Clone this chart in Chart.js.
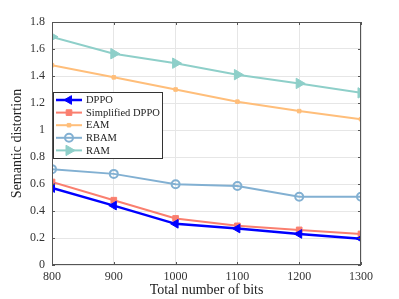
<!DOCTYPE html>
<html>
<head>
<meta charset="utf-8">
<script src="https://cdn.jsdelivr.net/npm/chart.js@4.4.0/dist/chart.umd.min.js"></script>
<style>
  html, body { margin: 0; padding: 0; background: #fff; }
  #wrap { width: 399px; height: 299px; }
</style>
</head>
<body>
<div id="wrap"><canvas id="chartCanvas" width="399" height="299"></canvas></div>
<script>
// x axis values (total number of bits)
const bits = [800, 900, 1000, 1100, 1200, 1300];

// semantic distortion
const dppo = [0.57, 0.44, 0.305, 0.27, 0.23, 0.195];
const simplifiedDppo = [0.615, 0.48, 0.345, 0.29, 0.26, 0.23];
const eam = [1.48, 1.39, 1.30, 1.21, 1.14, 1.08];
const rbam = [0.71, 0.675, 0.598, 0.585, 0.505, 0.505];
const ram = [1.69, 1.565, 1.495, 1.41, 1.345, 1.275];

const yTicks = [0, 0.2, 0.4, 0.6, 0.8, 1, 1.2, 1.4, 1.6, 1.8];

const serif = '"Liberation Serif", "DejaVu Serif", serif';

function toPoints(values) {
    return bits.map((b, i) => ({ x: b, y: values[i] }));
}

//Draws the box around the plot, inward ticks and the legend inside the plot
const framePlugin = {
    id: 'frame',
    afterDraw(chart) {
        const ctx = chart.ctx;
        const a = chart.chartArea;
        const xs = chart.scales.x;
        const ys = chart.scales.y;
        ctx.save();
        ctx.strokeStyle = '#555';
        ctx.lineWidth = 1;
        ctx.strokeRect(a.left + 0.5, a.top + 0.5, a.right - a.left - 1, a.bottom - a.top - 1);
        ctx.beginPath();
        yTicks.forEach(v => {
            const y = Math.round(ys.getPixelForValue(v)) + 0.5;
            ctx.moveTo(a.left, y); ctx.lineTo(a.left + 3, y);
            ctx.moveTo(a.right, y); ctx.lineTo(a.right - 3, y);
        });
        bits.forEach(v => {
            const x = Math.round(xs.getPixelForValue(v)) + 0.5;
            ctx.moveTo(x, a.bottom); ctx.lineTo(x, a.bottom - 3);
            ctx.moveTo(x, a.top); ctx.lineTo(x, a.top + 3);
        });
        ctx.stroke();

        // legend
        const lx = 53, ly = 92, lw = 109, lh = 66;
        ctx.fillStyle = '#fff';
        ctx.fillRect(lx, ly, lw, lh);
        ctx.strokeStyle = '#333';
        ctx.lineWidth = 1;
        ctx.strokeRect(lx + 0.5, ly + 0.5, lw, lh);
        ctx.font = '10.5px ' + serif;
        ctx.textBaseline = 'middle';
        chart.data.datasets.forEach((ds, i) => {
            const y = ly + 8 + i * 12.6;
            ctx.strokeStyle = ds.borderColor;
            ctx.lineWidth = ds.borderWidth;
            ctx.beginPath();
            ctx.moveTo(lx + 3, y);
            ctx.lineTo(lx + 29, y);
            ctx.stroke();
            ctx.fillStyle = ds.pointBackgroundColor;
            ctx.strokeStyle = ds.pointBorderColor;
            ctx.lineWidth = ds.pointBorderWidth;
            Chart.helpers.drawPoint(ctx, {
                pointStyle: ds.pointStyle,
                radius: ds.pointRadius,
                rotation: ds.pointRotation || 0,
                borderWidth: ds.pointBorderWidth
            }, lx + 16, y);
            ctx.fillStyle = '#222';
            ctx.fillText(ds.label, lx + 33, y + 0.5);
        });
        ctx.restore();
    }
};

function series(label, values, color, style, radius, extra) {
    return Object.assign({
        label: label,
        data: toPoints(values),
        borderColor: color,
        backgroundColor: color,
        pointBackgroundColor: color,
        pointBorderColor: color,
        borderWidth: 2,
        pointStyle: style,
        pointRadius: radius,
        pointBorderWidth: 1,
        tension: 0
    }, extra || {});
}

const ctx = document.getElementById('chartCanvas');
window.myChart = new Chart(ctx, {
    type: 'line',
    data: {
        datasets: [
            series('DPPO', dppo, '#0000ff', 'triangle', 5, { pointRotation: -90, borderWidth: 2.5 }),
            series('Simplified DPPO', simplifiedDppo, '#fa7f6f', 'rect', 4),
            series('EAM', eam, '#ffbe7a', 'rect', 2.5, { pointBorderWidth: 1 }),
            series('RBAM', rbam, '#82b0d2', 'circle', 4, { pointBackgroundColor: 'rgba(0,0,0,0)', backgroundColor: 'rgba(0,0,0,0)', pointBorderWidth: 2 }),
            series('RAM', ram, '#8ecfc9', 'triangle', 6, { pointRotation: 90 })
        ]
    },
    options: {
        responsive: false,
        animation: false,
        layout: { padding: { top: 22, right: 38, left: 0, bottom: 0 } },
        plugins: {
            legend: { display: false },
            tooltip: { enabled: false }
        },
        scales: {
            x: {
                type: 'linear',
                min: 800,
                max: 1300,
                afterFit(scale) { scale.height = 34; },
                afterBuildTicks(scale) { scale.ticks = bits.map(v => ({ value: v })); },
                grid: { color: '#e6e6e6', drawTicks: false },
                border: { display: false },
                ticks: {
                    font: { family: serif, size: 12 },
                    color: '#333',
                    padding: 5,
                    maxRotation: 0,
                    callback: v => String(v)
                },
                title: {
                    display: true,
                    text: 'Total number of bits',
                    font: { family: serif, size: 14 },
                    color: '#222',
                    padding: { top: 0, bottom: 0 }
                }
            },
            y: {
                min: 0,
                max: 1.8,
                afterFit(scale) { scale.width = 52; },
                afterBuildTicks(scale) { scale.ticks = yTicks.map(v => ({ value: v })); },
                grid: { color: '#e6e6e6', drawTicks: false },
                border: { display: false },
                ticks: {
                    font: { family: serif, size: 12 },
                    color: '#333',
                    padding: 7,
                    callback: v => String(Math.round(v * 10) / 10)
                },
                title: {
                    display: true,
                    text: 'Semantic distortion',
                    font: { family: serif, size: 14 },
                    color: '#222',
                    padding: { top: 9, bottom: 0 }
                }
            }
        }
    },
    plugins: [framePlugin]
});
</script>
</body>
</html>
